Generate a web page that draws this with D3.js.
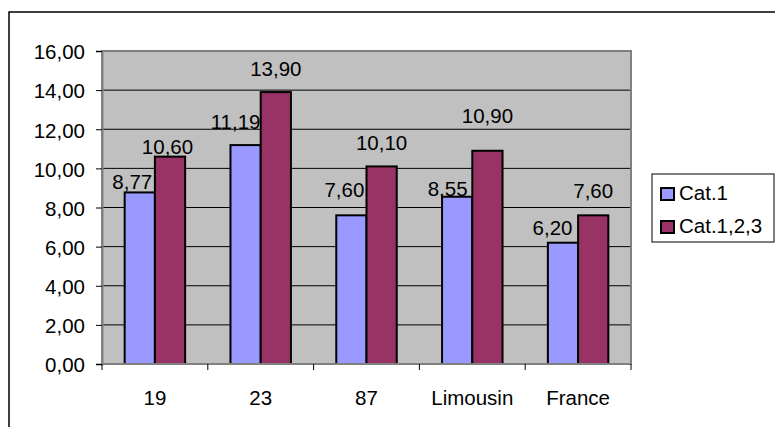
<!DOCTYPE html>
<html>
<head>
  <meta charset="utf-8">
  <script src="https://d3js.org/d3.v7.min.js"></script>
  <style>
    body { margin: 0; background: #fff; }
    text { font-family: Arial, "Liberation Sans", sans-serif; font-size: 20.5px; fill: #000; }
  </style>
</head>
<body>
<script>
  // chart data
  var categories = ["19", "23", "87", "Limousin", "France"];
  var seriesNames = ["Cat.1", "Cat.1,2,3"];
  var cat1 = [8.77, 11.19, 7.60, 8.55, 6.20];
  var cat123 = [10.60, 13.90, 10.10, 10.90, 7.60];
  var yTicks = [0, 2, 4, 6, 8, 10, 12, 14, 16];

  // manual label nudges (as placed in the original sheet)
  var cat1LabelDx = [-7.5, -10, -7, -9.5, -10.5],
      cat1LabelLift = [3, 16, 18, 1, 8];
  var cat123LabelDx = [-2.5, 0, 0, 0, 0],
      cat123LabelLift = [3, 16, 16, 28, 17];

  var colors = ["#9999FF", "#993366"];

  var svg = d3.select("body").append("svg")
      .attr("width", 775)
      .attr("height", 427);

  // outer chart frame (runs off the picture on the right and bottom)
  svg.append("rect")
      .attr("x", 9).attr("y", 12)
      .attr("width", 800).attr("height", 450)
      .attr("fill", "none")
      .attr("stroke", "#000")
      .attr("stroke-width", 1.5);

  var plot = { left: 102, top: 51, right: 631, bottom: 364 };

  var x = d3.scaleBand()
      .domain(categories)
      .range([plot.left, plot.right])
      .paddingInner(0).paddingOuter(0);

  var y = d3.scaleLinear()
      .domain([0, 16])
      .range([plot.bottom, plot.top]);

  // plot area background
  svg.append("rect")
      .attr("x", plot.left).attr("y", plot.top)
      .attr("width", plot.right - plot.left)
      .attr("height", plot.bottom - plot.top)
      .attr("fill", "#C0C0C0");

  // gridlines
  svg.append("g").selectAll("line")
      .data(yTicks.slice(1, -1))
      .enter().append("line")
      .attr("x1", plot.left).attr("x2", plot.right)
      .attr("y1", function(d) { return y(d); })
      .attr("y2", function(d) { return y(d); })
      .attr("stroke", "#000")
      .attr("stroke-width", 1);

  // bars
  var barW = x.bandwidth() / 3.5,
      gap = x.bandwidth() * 0.75 / 3.5;
  var series = [cat1, cat123];

  series.forEach(function(vals, s) {
    svg.append("g").selectAll("rect")
        .data(vals)
        .enter().append("rect")
        .attr("x", function(d, i) { return x(categories[i]) + gap + s * barW; })
        .attr("y", function(d) { return y(d); })
        .attr("width", barW)
        .attr("height", function(d) { return y(0) - y(d); })
        .attr("fill", colors[s])
        .attr("stroke", "#000")
        .attr("stroke-width", 2);
  });

  // plot border
  svg.append("rect")
      .attr("x", plot.left).attr("y", plot.top)
      .attr("width", plot.right - plot.left)
      .attr("height", plot.bottom - plot.top)
      .attr("fill", "none")
      .attr("stroke", "#808080")
      .attr("stroke-width", 2);

  // y axis
  var yAxis = d3.axisLeft(y)
      .tickValues(yTicks)
      .tickSize(6)
      .tickPadding(11)
      .tickFormat(function(d) { return d3.format(".2f")(d).replace(".", ","); });

  var gy = svg.append("g")
      .attr("transform", "translate(" + plot.left + ",0)")
      .call(yAxis);
  gy.select(".domain").attr("stroke", "#808080").attr("stroke-width", 2);
  gy.selectAll(".tick line").attr("stroke", "#000");
  gy.selectAll(".tick text")
      .attr("font-size", null).attr("font-family", null)
      .attr("dy", "0.38em");

  // x axis: ticks between categories
  var bounds = categories.map(function(c) { return x(c); }).concat([plot.right]);
  svg.append("g").selectAll("line")
      .data(bounds)
      .enter().append("line")
      .attr("x1", function(d) { return d; })
      .attr("x2", function(d) { return d; })
      .attr("y1", plot.bottom).attr("y2", plot.bottom + 6)
      .attr("stroke", "#000");

  svg.append("g").selectAll("text")
      .data(categories)
      .enter().append("text")
      .attr("x", function(d) { return x(d) + x.bandwidth() / 2; })
      .attr("y", 405)
      .attr("text-anchor", "middle")
      .text(function(d) { return d; });

  // value labels
  var fmt = function(d) { return d3.format(".2f")(d).replace(".", ","); };
  var dxs = [cat1LabelDx, cat123LabelDx],
      lifts = [cat1LabelLift, cat123LabelLift];

  series.forEach(function(vals, s) {
    svg.append("g").selectAll("text")
        .data(vals)
        .enter().append("text")
        .attr("x", function(d, i) { return x(categories[i]) + gap + s * barW + barW / 2 + dxs[s][i]; })
        .attr("y", function(d, i) { return y(d) - lifts[s][i]; })
        .attr("text-anchor", "middle")
        .text(fmt);
  });

  // legend
  var legend = svg.append("g");
  legend.append("rect")
      .attr("x", 652).attr("y", 174)
      .attr("width", 122).attr("height", 68)
      .attr("fill", "#fff")
      .attr("stroke", "#000")
      .attr("stroke-width", 1);

  var items = legend.selectAll("g.item")
      .data(seriesNames)
      .enter().append("g")
      .attr("class", "item")
      .attr("transform", function(d, i) { return "translate(0," + (i * 33) + ")"; });

  items.append("rect")
      .attr("x", 661).attr("y", 188)
      .attr("width", 13).attr("height", 12)
      .attr("fill", function(d, i) { return colors[i]; })
      .attr("stroke", "#000")
      .attr("stroke-width", 2);

  items.append("text")
      .attr("x", 679).attr("y", 200)
      .text(function(d) { return d; });
</script>
</body>
</html>
